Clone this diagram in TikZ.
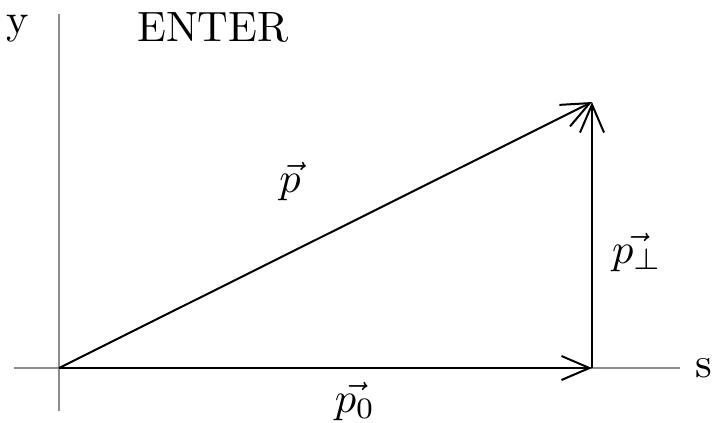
\documentclass[tikz,border=0pt]{standalone}
\usepackage{amsmath,amssymb}
\usepackage{xcolor}
\usetikzlibrary{arrows.meta,positioning}

\begin{document}
\begin{tikzpicture}[
    x=0.5pt, y=-0.5pt,
    axis/.style={draw=black!45, line width=0.65pt},
    vec/.style={draw=black, line width=1pt, -{Straight Barb[length=14pt, width=12pt, line width=1pt]}},
    lbl/.style={inner sep=0pt, scale=2.12, transform shape}
]
\useasboundingbox (0,0) rectangle (713,423);

% axes
\coordinate (o) at (59,368);
\coordinate (ytop) at (59,14);
\coordinate (ybot) at (59,411);
\coordinate (sleft) at (14,368);
\coordinate (sright) at (680,368);
\draw[axis] (ybot) -- (ytop);
\draw[axis] (sleft) -- (sright);
\node[lbl] (ylabel) at (18,29) {y};
\node[lbl] (slabel) at (704,368) {s};
\node[lbl] (enter) at (213,27) {ENTER};

% vectors
\coordinate (pzero) at (592,368);
\coordinate (ptip) at (592,102);
\draw[vec] (o) -- (pzero);
\draw[vec] (pzero) -- (ptip);
\draw[vec] (o) -- (ptip);
\node[lbl] (plabel) at (290,181) {$\vec{p}$};
\node[lbl] (pperplabel) at (637,252) {$\vec{p_\perp}$};
\node[lbl] (pzerolabel) at (355,401) {$\vec{p_0}$};
\end{tikzpicture}
\end{document}
